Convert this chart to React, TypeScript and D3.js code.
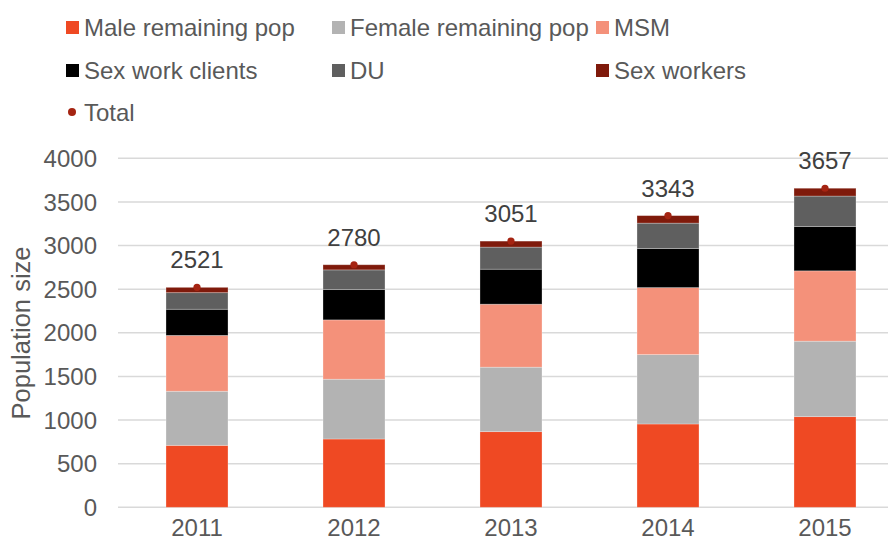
import React from "react";
import * as d3 from "d3";

const years = ["2011", "2012", "2013", "2014", "2015"];
const maleRemaining = [710, 783, 867, 955, 1039];
const femaleRemaining = [620, 685, 739, 795, 865];
const msm = [640, 680, 722, 768, 806];
const sexWorkClients = [300, 347, 401, 448, 508];
const du = [190, 226, 253, 291, 349];
const sexWorkers = [61, 59, 69, 86, 90];
const totals = [2521, 2780, 3051, 3343, 3657];
const yTicks = [0, 500, 1000, 1500, 2000, 2500, 3000, 3500, 4000];

const seriesNames = ["Male remaining pop", "Female remaining pop", "MSM", "Sex work clients", "DU", "Sex workers"];
const seriesColors = ["#EF4923", "#B3B3B3", "#F4917A", "#000000", "#5F5F5F", "#7F1A0B"];
const totalColor = "#A52412";

const W = 888;
const H = 546;
const FONT = "'Liberation Sans', Arial, sans-serif";
const TEXT = "#595959";
const FS = 24;

export default function App() {
  const x = d3.scaleBand<string>().domain(years).range([118.5, 903.5]).paddingInner(0.605).paddingOuter(0.3025);
  const y = d3.scaleLinear().domain([0, 4000]).range([507.3, 158.3]);

  const rows = years.map((yr, i) => ({
    year: yr,
    v0: maleRemaining[i],
    v1: femaleRemaining[i],
    v2: msm[i],
    v3: sexWorkClients[i],
    v4: du[i],
    v5: sexWorkers[i],
  }));
  const keys = ["v0", "v1", "v2", "v3", "v4", "v5"];
  const stack = d3.stack<any>().keys(keys)(rows);

  const legendCols = [66, 332, 596];
  const legendRows = [27.5, 70.5];

  return (
    <svg width={W} height={H} style={{ position: "absolute", left: 0, top: 0, background: "#fff" }} fontFamily={FONT}>
      {yTicks.map((t) => (
        <line key={t} x1={118} x2={W} y1={y(t)} y2={y(t)} stroke="#D9D9D9" strokeWidth={1.5} />
      ))}
      {yTicks.map((t) => (
        <text key={"l" + t} x={97} y={y(t)} dy="0.36em" textAnchor="end" fontSize={FS} fill={TEXT}>
          {t}
        </text>
      ))}
      <text transform={`translate(30,${333}) rotate(-90)`} textAnchor="middle" fontSize={25.5} fill={TEXT}>
        Population size
      </text>
      {stack.map((layer, si) => (
        <g key={si} fill={seriesColors[si]}>
          {layer.map((d: any, i: number) => (
            <rect
              key={i}
              x={x(years[i])}
              width={x.bandwidth()}
              y={y(d[1])}
              height={y(d[0]) - y(d[1])}
              stroke="#ffffff"
              strokeOpacity={0.35}
              strokeWidth={0.8}
            />
          ))}
        </g>
      ))}
      {years.map((yr, i) => (
        <g key={"t" + yr}>
          <circle cx={(x(yr) as number) + x.bandwidth() / 2} cy={y(totals[i])} r={3.6} fill={totalColor} />
          <text
            x={(x(yr) as number) + x.bandwidth() / 2}
            y={y(totals[i]) - 19}
            textAnchor="middle"
            fontSize={FS}
            fill="#404040"
          >
            {totals[i]}
          </text>
        </g>
      ))}
      {years.map((yr) => (
        <text key={"x" + yr} x={(x(yr) as number) + x.bandwidth() / 2} y={536} textAnchor="middle" fontSize={FS} fill={TEXT}>
          {yr}
        </text>
      ))}
      {seriesNames.map((name, i) => {
        const cx = legendCols[i % 3];
        const cy = legendRows[Math.floor(i / 3)];
        return (
          <g key={name}>
            <rect x={cx} y={cy - 6.5} width={13} height={13} fill={seriesColors[i]} />
            <text x={cx + 18} y={cy} dy="0.36em" fontSize={FS} fill={TEXT}>
              {name}
            </text>
          </g>
        );
      })}
      <circle cx={72} cy={112} r={4} fill={totalColor} />
      <text x={84} y={112.5} dy="0.36em" fontSize={FS} fill={TEXT}>
        Total
      </text>
    </svg>
  );
}
